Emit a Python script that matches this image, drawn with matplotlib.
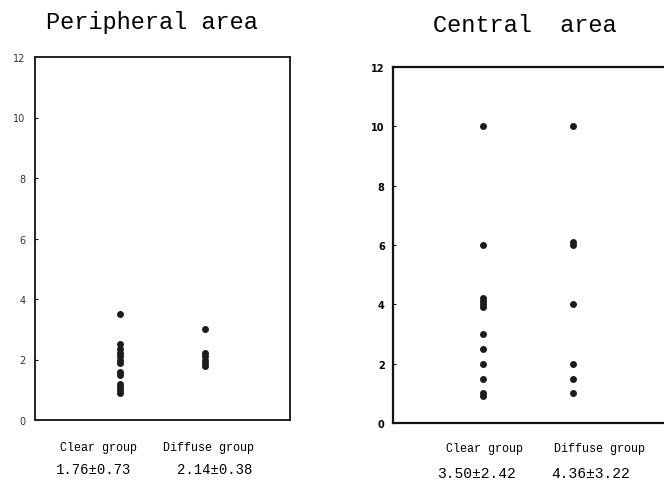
import matplotlib.pyplot as plt
import numpy as np

# values
groups = ["Clear group", "Diffuse group"]

periph_clear = [3.5, 2.5, 2.35, 2.2, 2.1, 2.0, 1.9, 1.6, 1.5, 1.2, 1.1, 1.0, 0.9]
periph_diffuse = [3.0, 2.2, 2.1, 2.0, 1.9, 1.8]
periph_stats = ["1.76\u00b10.73", "2.14\u00b10.38"]

central_clear = [10, 6, 4.2, 4.1, 4.0, 3.9, 3.0, 2.5, 2.0, 1.5, 1.0, 0.9]
central_diffuse = [10, 6.1, 6.0, 4.0, 2.0, 1.5, 1.0]
central_stats = ["3.50\u00b12.42", "4.36\u00b13.22"]

yticks = [0, 2, 4, 6, 8, 10, 12]

mono = "Liberation Mono"
dot = "#1c1c1c"
W, H = 664, 481

fig = plt.figure(figsize=(6.64, 4.81), dpi=100)

# left panel
ax1 = fig.add_axes([35 / W, 60 / H, 255 / W, 363 / H])
ax1.plot(np.full(len(periph_clear), 1), periph_clear, "o", color=dot, ms=5, mec="none")
ax1.plot(np.full(len(periph_diffuse), 2), periph_diffuse, "o", color=dot, ms=5, mec="none")
ax1.set_xlim(0, 3)
ax1.set_ylim(0, 12)
ax1.set_xticks([])
ax1.set_yticks(yticks)
ax1.tick_params(axis="y", direction="in", length=2, pad=7, labelsize=7, labelcolor="#333333")
for s in ax1.spines.values():
    s.set_linewidth(1.4)
    s.set_color("#222222")
fig.text(152 / W, 1 - 22 / H, "Peripheral area", family=mono, fontsize=17,
         ha="center", va="center")
# group labels sit a bit apart from the dot columns
for xc, g in zip([99, 209], groups):
    fig.text(xc / W, 1 - 448 / H, g, family=mono, fontsize=8.5, ha="center", va="center")
for xc, st in zip([94, 215], periph_stats):
    fig.text(xc / W, 1 - 470 / H, st, family=mono, fontsize=10, ha="center", va="center")

# right panel (runs off the right edge)
ax2 = fig.add_axes([393 / W, 57 / H, 297 / W, 356 / H])
ax2.plot(np.full(len(central_clear), 1), central_clear, "o", color=dot, ms=5, mec="none")
ax2.plot(np.full(len(central_diffuse), 2), central_diffuse, "o", color=dot, ms=5, mec="none")
ax2.set_xlim(0, 3.3)
ax2.set_ylim(0, 12)
ax2.set_xticks([])
ax2.set_yticks(yticks)
ax2.tick_params(axis="y", direction="in", length=2, pad=6, labelsize=7)
for lab in ax2.get_yticklabels():
    lab.set_fontweight("bold")
for s in ax2.spines.values():
    s.set_linewidth(1.6)
    s.set_color("#111111")
fig.text(525 / W, 1 - 25 / H, "Central  area", family=mono, fontsize=17,
         ha="center", va="center")
for xc, g in zip([485, 600], groups):
    fig.text(xc / W, 1 - 449 / H, g, family=mono, fontsize=8.5, ha="center", va="center")
for xc, st in zip([476, 591], central_stats):
    fig.text(xc / W, 1 - 474 / H, st, family=mono, fontsize=10.5, ha="center", va="center")

fig.savefig("out.png", dpi=100)
